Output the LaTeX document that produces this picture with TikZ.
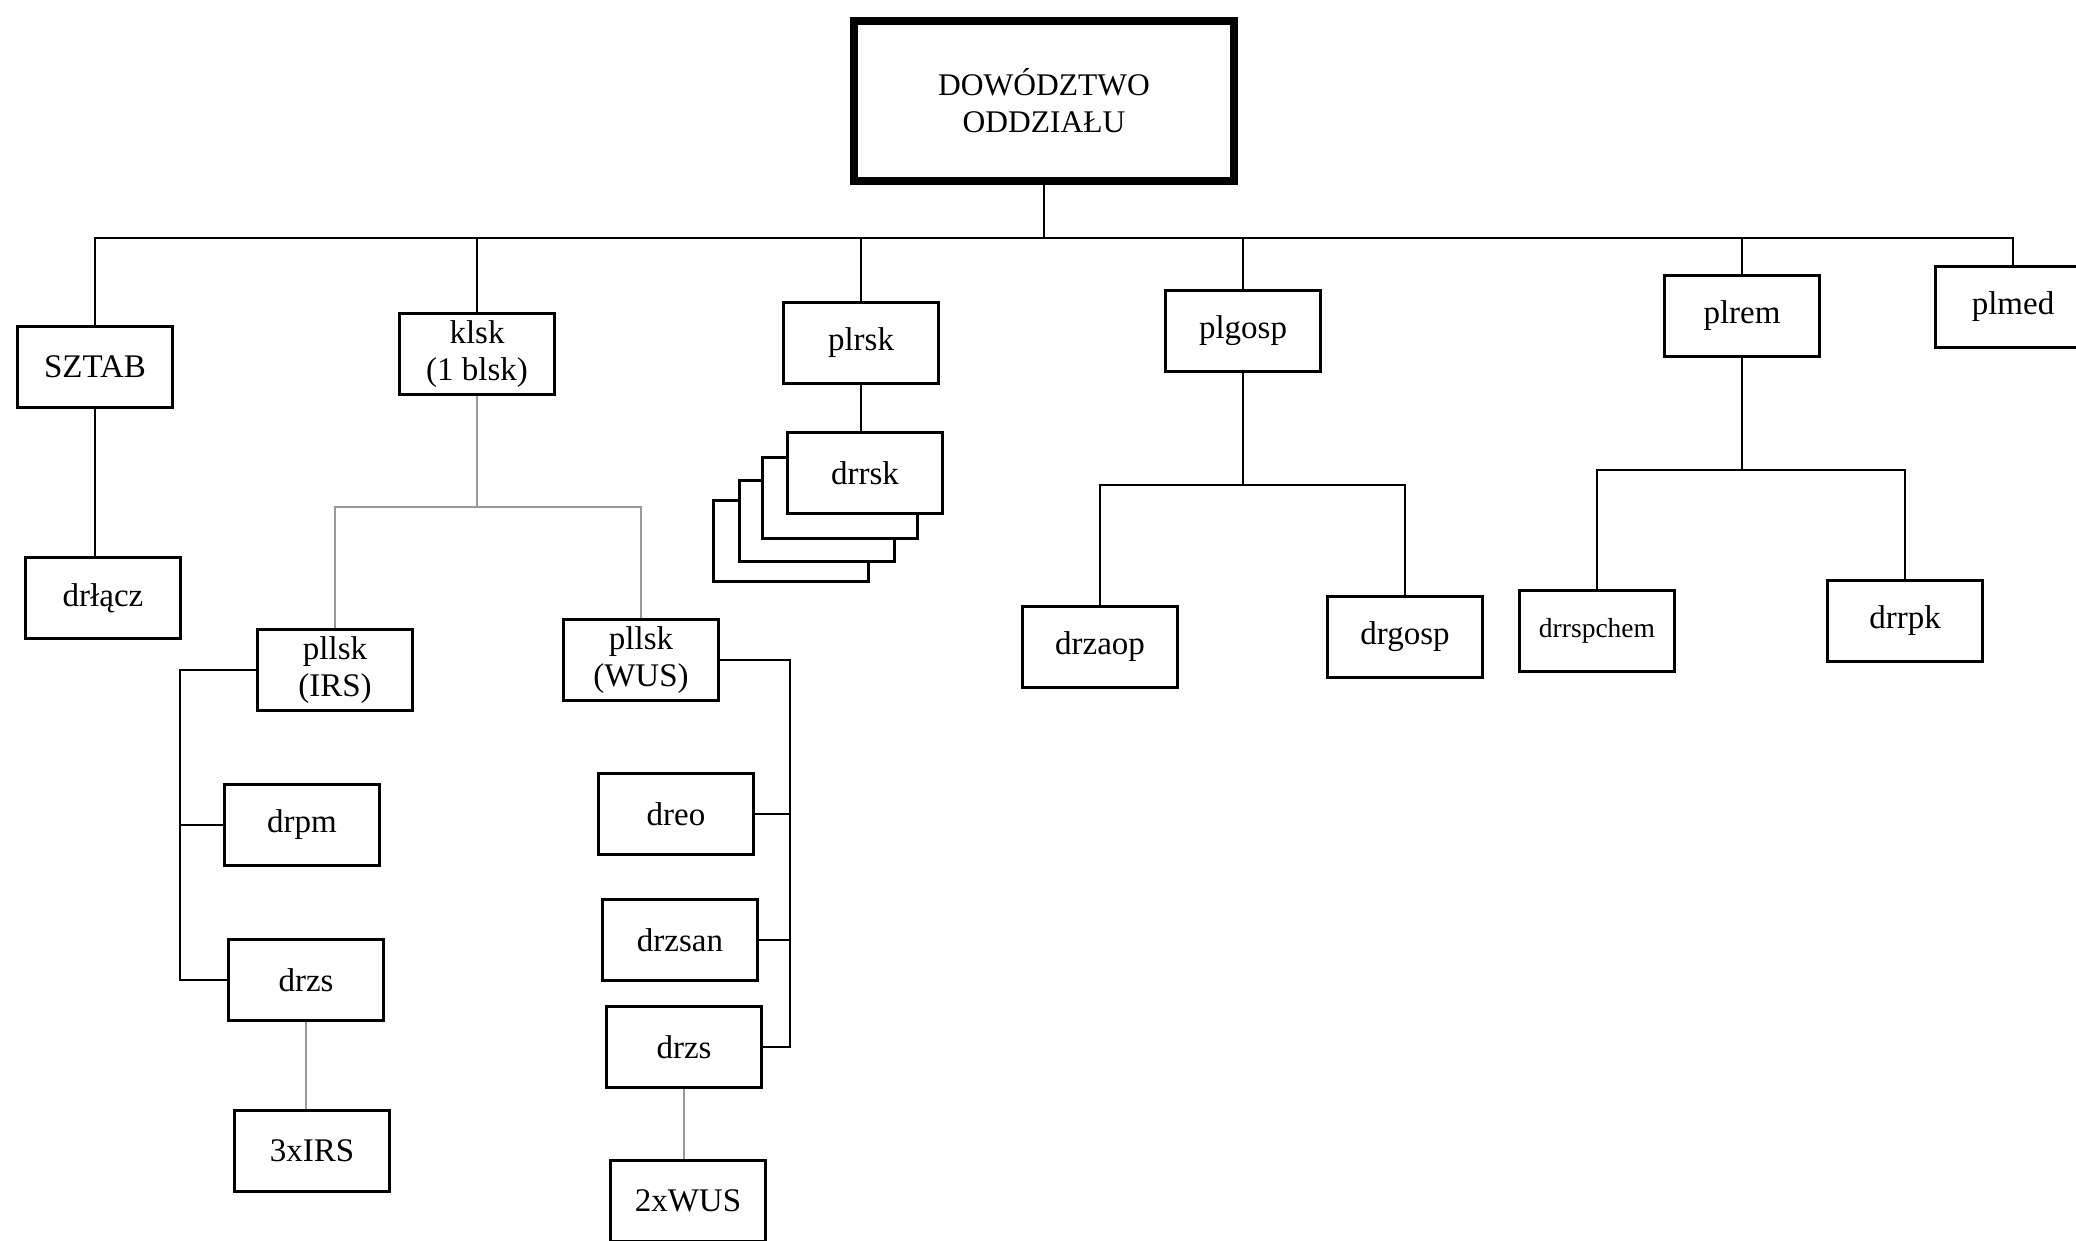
\documentclass[tikz,border=0pt]{standalone}
\usepackage{fontspec}
\setmainfont{Liberation Serif}

\tikzset{
  unitbox/.style={draw, line width=3pt, fill=white, minimum width=155pt,
    minimum height=81pt, inner sep=0pt, align=center,
    font=\fontsize{33}{37}\selectfont},
  smalltext/.style={font=\fontsize{27.5}{31}\selectfont},
  headbox/.style={draw, line width=8pt, fill=white, minimum width=380pt,
    minimum height=160pt, inner sep=0pt, align=center,
    font=\fontsize{31.5}{37}\selectfont},
  link/.style={line width=2pt},
  sublink/.style={line width=1.2pt, black!40},
}

\begin{document}
\begin{tikzpicture}[x=1pt, y=-1pt]
  \useasboundingbox (0,0) rectangle (2076,1240);
  \clip (0,0) rectangle (2076,1240);

  % command
  \node[headbox] (hq) at (1044,101) {DOWÓDZTWO\\ODDZIAŁU};

  % first level
  \node[unitbox] (sztab)  at (95,367)   {SZTAB};
  \node[unitbox] (klsk)   at (477,354)  {klsk\\(1 blsk)};
  \node[unitbox] (plrsk)  at (861,343)  {plrsk};
  \node[unitbox] (plgosp) at (1243,331) {plgosp};
  \node[unitbox] (plrem)  at (1742,316) {plrem};
  \node[unitbox] (plmed)  at (2013,307)  {plmed};

  % SZTAB
  \node[unitbox] (drlacz) at (103,598) {drłącz};

  % klsk
  \node[unitbox] (pllskirs) at (335,670) {pllsk\\(IRS)};
  \node[unitbox] (pllskwus) at (641,660) {pllsk\\(WUS)};
  \node[unitbox] (drpm)     at (302,825) {drpm};
  \node[unitbox] (drzsirs)  at (306,980) {drzs};
  \node[unitbox] (irs)      at (312,1151) {3xIRS};
  \node[unitbox] (dreo)     at (676,814) {dreo};
  \node[unitbox] (drzsan)   at (680,940) {drzsan};
  \node[unitbox] (drzswus)  at (684,1047) {drzs};
  \node[unitbox] (wus)      at (688,1201) {2xWUS};

  % plrsk: stacked squads
  \node[unitbox] (drrskc) at (791,541) {};
  \node[unitbox] (drrskb) at (817,521) {};
  \node[unitbox] (drrska) at (840,498) {};
  \node[unitbox] (drrsk)  at (865,473) {drrsk};

  % plgosp
  \node[unitbox] (drzaop) at (1100,647) {drzaop};
  \node[unitbox] (drgosp) at (1405,637) {drgosp};

  % plrem
  \node[unitbox, smalltext] (drrspchem) at (1597,631) {drrspchem};
  \node[unitbox] (drrpk) at (1905,621) {drrpk};

  % junction levels
  \coordinate (bus)   at (0,238);
  \coordinate (kbus)  at (0,507);
  \coordinate (gbus)  at (0,485);
  \coordinate (rbus)  at (0,470);
  \coordinate (irsx)  at (180,0);
  \coordinate (wusx)  at (790,0);

  % main bus
  \draw[link] (hq.south) -- (hq.south |- bus);
  \draw[link] (sztab.north) |- (plmed.north |- bus) -- (plmed.north);
  \draw[link] (klsk.north) -- (klsk.north |- bus);
  \draw[link] (plrsk.north) -- (plrsk.north |- bus);
  \draw[link] (plgosp.north) -- (plgosp.north |- bus);
  \draw[link] (plrem.north) -- (plrem.north |- bus);

  % SZTAB
  \draw[link] (sztab.south) -- (sztab.south |- drlacz.north);

  % klsk
  \draw[sublink] (klsk.south) -- (klsk.south |- kbus);
  \draw[sublink] (pllskirs.north) |- (pllskwus.north |- kbus) -- (pllskwus.north);

  \draw[link] (pllskirs.west) -| (irsx |- drzsirs.west) -- (drzsirs.west);
  \draw[link] (drpm.west) -- (irsx |- drpm.west);
  \draw[sublink] (drzsirs.south) -- (drzsirs.south |- irs.north);

  \draw[link] (pllskwus.east) -| (wusx |- drzswus.east) -- (drzswus.east);
  \draw[link] (dreo.east) -- (wusx |- dreo.east);
  \draw[link] (drzsan.east) -- (wusx |- drzsan.east);
  \draw[sublink] (drzswus.south) -- (drzswus.south |- wus.north);

  % plrsk
  \draw[link] (plrsk.south) -- (plrsk.south |- drrsk.north);

  % plgosp
  \draw[link] (plgosp.south) -- (plgosp.south |- gbus);
  \draw[link] (drzaop.north) |- (drgosp.north |- gbus) -- (drgosp.north);

  % plrem
  \draw[link] (plrem.south) -- (plrem.south |- rbus);
  \draw[link] (drrspchem.north) |- (drrpk.north |- rbus) -- (drrpk.north);
\end{tikzpicture}
\end{document}
